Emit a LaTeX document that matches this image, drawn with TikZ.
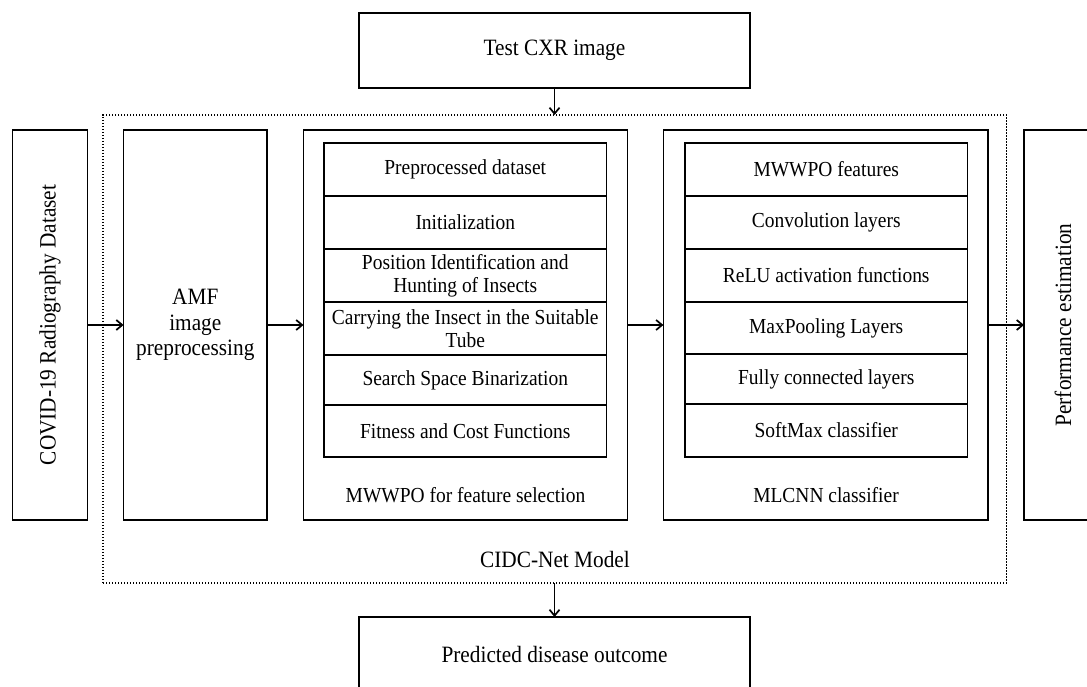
\documentclass[tikz,border=0pt]{standalone}
\usepackage{fontspec}
\setmainfont{Liberation Serif}[FakeStretch=0.91]
\usetikzlibrary{arrows.meta}
\newcommand\BigF{\fontsize{23.4}{25}\selectfont}
\newcommand\SmF{\fontsize{21.4}{23}\selectfont}
\begin{document}
\begin{tikzpicture}[x=1pt,y=-1pt,
  box/.style={draw, line width=1.7pt, inner sep=0pt, outer sep=0pt, align=center, font=\BigF},
  row/.style={draw, line width=1.7pt, inner sep=0pt, outer sep=0pt, align=center, font=\SmF, minimum width=282.5pt},
  dotbox/.style={draw, line width=1.3pt, dash pattern=on 1.3pt off 1.7pt, inner sep=0pt, outer sep=0pt},
  lbl/.style={inner sep=0pt, align=center},
  arr/.style={line width=1.7pt, -{Straight Barb[length=6pt,width=10pt,line width=1.7pt]}}]
\useasboundingbox (0,0) rectangle (1087,687);
\clip (0,0) rectangle (1087,687);
% top and bottom boxes
\node[box, minimum width=391pt, minimum height=75pt] (test) at (554.5,50.5) {Test CXR image};
\node[box, minimum width=391pt, minimum height=75pt] (pred) at (554.5,654.5) {Predicted disease outcome};
% dotted model frame
\node[dotbox, minimum width=903.5pt, minimum height=468pt] (model) at (554.75,349) {};
\node[lbl, font=\BigF] (modellbl) at (555,559) {CIDC-Net Model};
% left dataset box
\node[box, minimum width=75pt, minimum height=390pt] (covid) at (50,325) {};
\node[lbl, rotate=90, font=\BigF] (covidt) at (covid.center) {COVID-19 Radiography Dataset};
% AMF
\node[box, minimum width=143.4pt, minimum height=390pt, font=\fontsize{23.4}{25.5}\selectfont] (amf) at (195.3,325) {AMF\\image\\preprocessing};
% MWWPO block
\node[box, minimum width=324pt, minimum height=390pt] (mw) at (465.5,325) {};
\node[row, minimum height=53pt] (mw1) at (465.25,169.5) {Preprocessed dataset};
\node[row, minimum height=53pt] (mw2) at (465.25,222.5) {Initialization};
\node[row, minimum height=53pt] (mw3) at (465.25,275.5) {Position Identification and\\Hunting of Insects};
\node[row, minimum height=53pt] (mw4) at (465.25,328.5) {Carrying the Insect in the Suitable\\Tube};
\node[row, minimum height=50pt] (mw5) at (465.25,380) {Search Space Binarization};
\node[row, minimum height=52pt] (mw6) at (465.25,431) {Fitness and Cost Functions};
\node[lbl, font=\SmF] (mwlbl) at (465.5,495) {MWWPO for feature selection};
% MLCNN block
\node[box, minimum width=324.6pt, minimum height=390pt] (ml) at (825.7,325) {};
\node[row, minimum height=53pt] (ml1) at (826.25,169.5) {MWWPO features};
\node[row, minimum height=53pt] (ml2) at (826.25,222.5) {Convolution layers};
\node[row, minimum height=53pt] (ml3) at (826.25,275.5) {ReLU activation functions};
\node[row, minimum height=52pt] (ml4) at (826.25,328) {MaxPooling Layers};
\node[row, minimum height=50pt] (ml5) at (826.25,379) {Fully connected layers};
\node[row, minimum height=53pt] (ml6) at (826.25,430.5) {SoftMax classifier};
\node[lbl, font=\SmF] (mllbl) at (826,495) {MLCNN classifier};
% performance box (cut at the right edge)
\node[box, minimum width=76pt, minimum height=390pt] (perf) at (1062,325) {};
\node[lbl, rotate=90, font=\BigF] (perft) at (1063,325) {Performance estimation};
% connectors
\draw[arr] (test.south) -- (test.south |- model.north);
\draw[arr] (pred.north |- model.south) -- (pred.north);
\draw[arr] (covid.east) -- (amf.west);
\draw[arr] (amf.east) -- (mw.west);
\draw[arr] (mw.east) -- (ml.west);
\draw[arr] (ml.east) -- (perf.west);
\end{tikzpicture}
\end{document}
